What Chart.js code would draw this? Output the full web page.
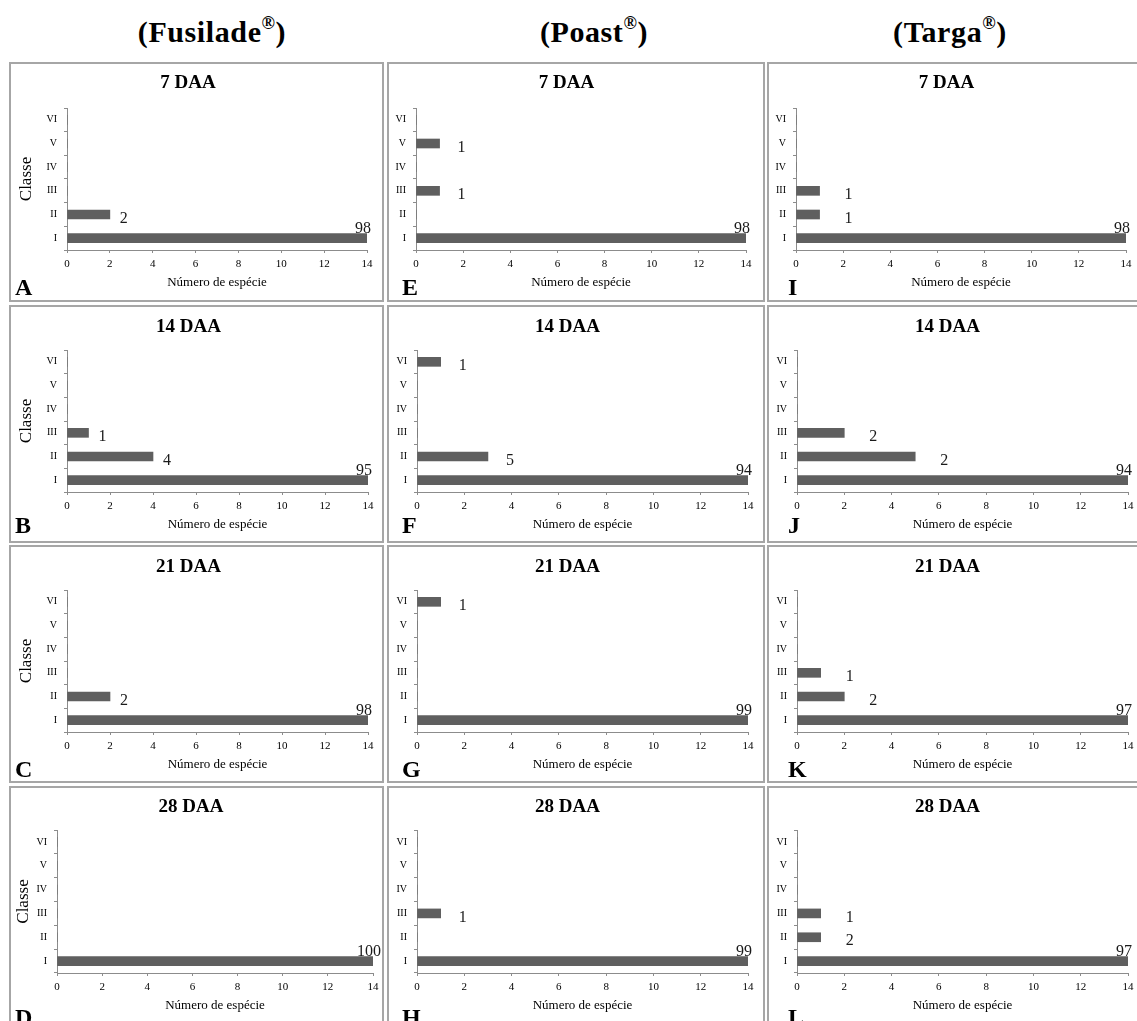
<!DOCTYPE html>
<html>
<head>
<meta charset="utf-8">
<script src="https://cdn.jsdelivr.net/npm/chart.js@4.4.0/dist/chart.umd.min.js"></script>
<style>
  html, body { margin: 0; padding: 0; background: #fff; overflow: hidden; }
  body { width: 1137px; height: 1021px; position: relative; font-family: "Liberation Serif", "Times New Roman", serif; }
  .head { position: absolute; top: 17px; width: 300px; text-align: center; font-weight: bold; font-size: 30px; line-height: 30px; letter-spacing: 0.6px; color: #000; }
  .head sup { font-size: 0.6em; vertical-align: 0; position: relative; top: -0.7em; }
  .panel { position: absolute; box-sizing: border-box; border: 2px solid #a6a6a6; }
  canvas { position: absolute; }
</style>
</head>
<body>
<script>
'use strict';

// ---- data ----
const classes = ['I', 'II', 'III', 'IV', 'V', 'VI'];
const herbicides = ['Fusilade', 'Poast', 'Targa'];
const periods = ['7 DAA', '14 DAA', '21 DAA', '28 DAA'];
const panelLetters = [['A', 'B', 'C', 'D'], ['E', 'F', 'G', 'H'], ['I', 'J', 'K', 'L']];
const xTicks = [0, 2, 4, 6, 8, 10, 12, 14];

// number of species per class (bar length), one row per period
const fusiladeSpecies = [
  [14, 2, 0, 0, 0, 0],
  [14, 4, 1, 0, 0, 0],
  [14, 2, 0, 0, 0, 0],
  [14, 0, 0, 0, 0, 0]
];
const poastSpecies = [
  [14, 0, 1, 0, 1, 0],
  [14, 3, 0, 0, 0, 1],
  [14, 0, 0, 0, 0, 1],
  [14, 0, 1, 0, 0, 0]
];
const targaSpecies = [
  [14, 1, 1, 0, 0, 0],
  [14, 5, 2, 0, 0, 0],
  [14, 2, 1, 0, 0, 0],
  [14, 1, 1, 0, 0, 0]
];

// numbers printed next to the bars
const fusiladeLabels = [
  [98, 2, null, null, null, null],
  [95, 4, 1, null, null, null],
  [98, 2, null, null, null, null],
  [100, null, null, null, null, null]
];
const poastLabels = [
  [98, null, 1, null, 1, null],
  [94, 5, null, null, null, 1],
  [99, null, null, null, null, 1],
  [99, null, 1, null, null, null]
];
const targaLabels = [
  [98, 1, 1, null, null, null],
  [94, 2, 2, null, null, null],
  [97, 2, 1, null, null, null],
  [97, 2, 1, null, null, null]
];

const speciesByCol = [fusiladeSpecies, poastSpecies, targaSpecies];
const labelsByCol = [fusiladeLabels, poastLabels, targaLabels];

// ---- layout ----
const headCenters = [212, 594, 950];
const colBoxes = [[9, 384], [387, 765], [767, 1145]];
const rowBoxes = [[62, 302], [305, 543], [545, 783], [786, 1030]];
const plotX = [
  [[67, 367], [67, 368], [67, 368], [57, 373]],
  [[416, 746], [417, 748], [417, 748], [417, 748]],
  [[796, 1126], [797, 1128], [797, 1128], [797, 1128]]
];
const plotY = [[108, 250], [350, 492], [590, 732], [830, 973]];
const titleY = [83, 327, 567, 807];
const letterX = [15, 402, 788];
const letterY = [295, 533, 777, 1025];
const labelDx = [14, 22, 29];
const classeX = [18, 18, 18, 15];

const FONT = '"Liberation Serif", "Times New Roman", serif';
const AXIS = '#8c8c8c';
const BAR = '#5f5f5f';

herbicides.forEach(function(name, i) {
  const d = document.createElement('div');
  d.className = 'head';
  d.style.left = (headCenters[i] - 150) + 'px';
  d.innerHTML = '(' + name + '<sup>®</sup>)';
  document.body.appendChild(d);
});

const panelExtras = {
  id: 'panelExtras',
  afterDatasetsDraw(chart, args, opts) {
    const ctx = chart.ctx;
    const xScale = chart.scales.x;
    const meta = chart.getDatasetMeta(0);
    const values = chart.data.datasets[0].data;
    ctx.save();
    ctx.font = '16px ' + FONT;
    ctx.fillStyle = '#1a1a1a';
    ctx.textAlign = 'center';
    ctx.textBaseline = 'middle';
    meta.data.forEach(function(bar, i) {
      const txt = opts.labels[i];
      if (txt === null || txt === undefined) return;
      if (values[i] >= xScale.max) {
        ctx.fillText(String(txt), bar.x - 4, bar.y - 9);
      } else {
        ctx.fillText(String(txt), bar.x + opts.dx, bar.y + 4);
      }
    });
    ctx.font = 'bold 24px ' + FONT;
    ctx.fillStyle = '#000';
    ctx.textAlign = 'left';
    ctx.textBaseline = 'alphabetic';
    ctx.fillText(opts.letter, opts.lx, opts.ly);
    ctx.restore();
  }
};

function makePanel(col, row) {
  const bx0 = colBoxes[col][0], bx1 = colBoxes[col][1];
  const by0 = rowBoxes[row][0], by1 = rowBoxes[row][1];
  const w = bx1 - bx0, h = by1 - by0;
  const pl = plotX[col][row][0], pr = plotX[col][row][1];
  const pt = plotY[row][0], pb = plotY[row][1];

  const box = document.createElement('div');
  box.className = 'panel';
  box.style.left = bx0 + 'px';
  box.style.top = by0 + 'px';
  box.style.width = w + 'px';
  box.style.height = h + 'px';
  document.body.appendChild(box);

  const canvas = document.createElement('canvas');
  canvas.width = w;
  canvas.height = h;
  canvas.style.left = bx0 + 'px';
  canvas.style.top = by0 + 'px';
  document.body.appendChild(canvas);

  const titleLH = 19 * 1.2;
  const tc = titleY[row] - by0;

  new Chart(canvas, {
    type: 'bar',
    data: {
      labels: classes,
      datasets: [{
        data: speciesByCol[col][row],
        backgroundColor: BAR,
        borderWidth: 0,
        barThickness: 9
      }]
    },
    options: {
      indexAxis: 'y',
      responsive: false,
      animation: false,
      events: [],
      layout: { padding: { left: 0, right: bx1 - pr, top: 0, bottom: 0 } },
      plugins: {
        legend: { display: false },
        tooltip: { enabled: false },
        title: {
          display: true,
          text: periods[row],
          color: '#000',
          font: { family: FONT, size: 19, weight: 'bold' },
          padding: { top: tc - titleLH / 2, bottom: (pt - by0) - tc - titleLH / 2 }
        },
        panelExtras: {
          labels: labelsByCol[col][row],
          dx: labelDx[col],
          letter: panelLetters[col][row],
          lx: letterX[col] - bx0,
          ly: letterY[row] - by0
        }
      },
      scales: {
        x: {
          min: 0,
          max: 14,
          afterBuildTicks: function(scale) {
            scale.ticks = xTicks.map(function(v) { return { value: v }; });
          },
          ticks: { color: '#000', font: { family: FONT, size: 11 }, padding: 5, maxRotation: 0 },
          grid: { drawOnChartArea: false, tickLength: 3, color: AXIS },
          border: { color: AXIS, width: 1 },
          title: {
            display: true,
            text: 'Número de espécie',
            color: '#000',
            font: { family: FONT, size: 13 },
            padding: { top: 0, bottom: by1 - pb - 40.3 }
          },
          afterFit: function(scale) { scale.height = by1 - pb; }
        },
        y: {
          reverse: true,
          ticks: { color: '#000', font: { family: FONT, size: 10 }, padding: 7 },
          grid: { drawOnChartArea: false, tickLength: 3, color: AXIS, offset: true },
          border: { color: AXIS, width: 1 },
          title: {
            display: col === 0,
            text: 'Classe',
            color: '#000',
            font: { family: FONT, size: 17 },
            padding: { top: classeX[row] - 10.2, bottom: 0 }
          },
          afterFit: function(scale) { scale.width = pl - bx0; }
        }
      }
    },
    plugins: [panelExtras]
  });
}

for (let col = 0; col < 3; col++) {
  for (let row = 0; row < 4; row++) {
    makePanel(col, row);
  }
}
</script>
</body>
</html>
